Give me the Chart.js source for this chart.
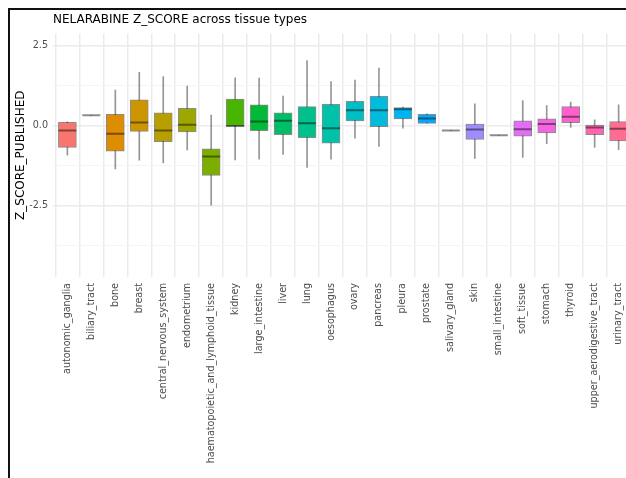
<!DOCTYPE html>
<html>
<head>
<meta charset="utf-8">
<script src="https://cdn.jsdelivr.net/npm/chart.js@4/dist/chart.umd.min.js"></script>
<style>
  html, body { margin: 0; padding: 0; background: #fff; overflow: hidden; }
  #frame { position: absolute; left: 8px; top: 8px; width: 640px; height: 470px; border: 2px solid #111; }
  #chart { display: block; }
</style>
</head>
<body>
<div id="frame"><canvas id="chart" width="640" height="470"></canvas></div>
<script>
// Tissue categories
const tissues = [
  "autonomic_ganglia", "biliary_tract", "bone", "breast", "central_nervous_system",
  "endometrium", "haematopoietic_and_lymphoid_tissue", "kidney", "large_intestine",
  "liver", "lung", "oesophagus", "ovary", "pancreas", "pleura", "prostate",
  "salivary_gland", "skin", "small_intestine", "soft_tissue", "stomach", "thyroid",
  "upper_aerodigestive_tract", "urinary_tract"
];

// Box-plot statistics per tissue (Z_SCORE_PUBLISHED)
const whiskerLow = [-0.92, 0.32, -1.35, -1.08, -1.16, -0.76, -2.48, -1.07, -1.05, -0.90, -1.30, -1.05,
                    -0.39, -0.65, -0.08, 0.07, -0.15, -1.02, -0.30, -0.99, -0.56, -0.06, -0.68, -0.75];
const q1 =         [-0.68, 0.32, -0.80, -0.18, -0.50, -0.20, -1.55, -0.02, -0.16, -0.28, -0.375, -0.55,
                     0.15, -0.03, 0.21, 0.07, -0.15, -0.43, -0.30, -0.33, -0.23, 0.09, -0.28, -0.48];
const median =     [-0.15, 0.32, -0.25, 0.10, -0.15, 0.03, -0.96, -0.01, 0.125, 0.15, 0.07, -0.08,
                     0.48, 0.48, 0.51, 0.22, -0.15, -0.125, -0.30, -0.11, 0.05, 0.28, -0.06, -0.10];
const q3 =         [0.10, 0.32, 0.35, 0.80, 0.40, 0.54, -0.72, 0.83, 0.65, 0.40, 0.59, 0.66,
                    0.76, 0.91, 0.56, 0.35, -0.15, 0.05, -0.30, 0.15, 0.21, 0.59, 0.02, 0.125];
const whiskerHigh = [0.12, 0.32, 1.11, 1.66, 1.53, 1.23, 0.33, 1.49, 1.48, 0.92, 2.03, 1.375,
                     1.42, 1.79, 0.58, 0.37, -0.15, 0.68, -0.30, 0.78, 0.625, 0.73, 0.18, 0.65];

// Y-axis tick values carrying labels
const yLabelledTicks = [-2.5, 0, 2.5];

// Evenly spaced HCL hues (L=65, C=100), converted to sRGB
function hclToHex(h, c, l) {
  const Xn = 95.047, Yn = 100, Zn = 108.883;
  const un = 4 * Xn / (Xn + 15 * Yn + 3 * Zn);
  const vn = 9 * Yn / (Xn + 15 * Yn + 3 * Zn);
  const rad = h * Math.PI / 180;
  const u = c * Math.cos(rad), v = c * Math.sin(rad);
  const Y = Yn * Math.pow((l + 16) / 116, 3);
  const up = u / (13 * l) + un, vp = v / (13 * l) + vn;
  const X = Y * 9 * up / (4 * vp);
  const Z = Y * (12 - 3 * up - 20 * vp) / (4 * vp);
  const x = X / 100, y = Y / 100, z = Z / 100;
  const lin = [
    3.240479 * x - 1.537150 * y - 0.498535 * z,
    -0.969256 * x + 1.875992 * y + 0.041556 * z,
    0.055648 * x - 0.204043 * y + 1.057311 * z
  ];
  return '#' + lin.map(t => {
    let g = t <= 0.0031308 ? 12.92 * t : 1.055 * Math.pow(t, 1 / 2.4) - 0.055;
    g = Math.round(Math.min(1, Math.max(0, g)) * 255);
    return g.toString(16).padStart(2, '0');
  }).join('');
}
const palette = tissues.map((_, i) => hclToHex(15 + 15 * i, 100, 65));

const idx = tissues.map((_, i) => i);

const whiskerData = idx.map(i => ({ x: i, y: [whiskerLow[i], whiskerHigh[i]] }));
const boxData = idx.map(i => ({ x: i, y: [q1[i], q3[i]] }));
const medianData = idx.map(i => ({ x: i, y: median[i] }));

const font = "'DejaVu Sans', sans-serif";

new Chart(document.getElementById('chart'), {
  data: {
    datasets: [
      {
        type: 'scatter',
        data: medianData,
        pointStyle: 'line',
        pointRadius: 9,
        pointHoverRadius: 9,
        borderColor: 'rgba(0,0,0,0.45)',
        pointBorderWidth: 2,
        borderWidth: 2,
        showLine: false,
        order: 1
      },
      {
        type: 'bar',
        data: boxData,
        backgroundColor: palette,
        borderColor: 'rgba(45,45,45,0.55)',
        borderWidth: 1,
        borderSkipped: false,
        barThickness: 18,
        grouped: false,
        order: 2
      },
      {
        type: 'bar',
        data: whiskerData,
        backgroundColor: 'rgba(80,80,80,0.6)',
        borderWidth: 0,
        barThickness: 1,
        grouped: false,
        order: 3
      }
    ]
  },
  options: {
    responsive: false,
    animation: false,
    events: [],
    layout: { padding: { left: 0, right: 17, top: 0, bottom: 0 } },
    plugins: {
      legend: { display: false },
      tooltip: { enabled: false },
      title: {
        display: true,
        text: 'NELARABINE Z_SCORE across tissue types',
        align: 'start',
        fullSize: false,
        color: '#000',
        font: { family: font, size: 12, weight: 'normal' },
        padding: { top: 3, bottom: 6 }
      }
    },
    scales: {
      x: {
        type: 'linear',
        min: -0.6,
        max: 23.6,
        offset: false,
        border: { display: false },
        grid: { color: '#ebebeb', lineWidth: 1.5, drawTicks: false },
        ticks: {
          stepSize: 1,
          includeBounds: false,
          autoSkip: false,
          minRotation: 90,
          maxRotation: 90,
          padding: 6,
          color: '#4d4d4d',
          font: { family: font, size: 9.6 },
          callback: v => (Number.isInteger(v) && tissues[v] !== undefined) ? tissues[v] : ''
        },
        afterFit: s => { s.height = 203; }
      },
      y: {
        type: 'linear',
        min: -4.72,
        max: 2.875,
        border: { display: false },
        grid: {
          drawTicks: false,
          color: ctx => yLabelledTicks.includes(ctx.tick && ctx.tick.value) ? '#ebebeb' : '#f4f4f4',
          lineWidth: ctx => yLabelledTicks.includes(ctx.tick && ctx.tick.value) ? 1.5 : 1
        },
        ticks: {
          stepSize: 1.25,
          includeBounds: false,
          padding: 5,
          color: '#4d4d4d',
          font: { family: font, size: 9.6 },
          callback: v => yLabelledTicks.includes(v) ? v.toFixed(1) : ''
        },
        title: {
          display: true,
          text: 'Z_SCORE_PUBLISHED',
          color: '#000',
          font: { family: font, size: 12 },
          padding: { top: 4, bottom: 0 }
        },
        afterFit: s => { s.width = 43; }
      }
    }
  }
});
</script>
</body>
</html>
